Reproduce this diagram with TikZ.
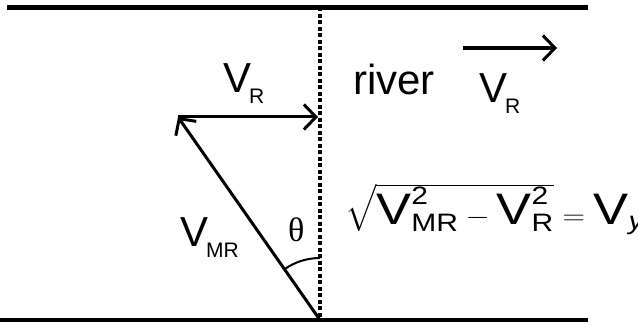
\documentclass[tikz,border=0pt]{standalone}
\usepackage{amsmath}
\usepackage{graphicx}
\usepackage{fontspec}
\setmainfont{Liberation Sans}
\newfontfamily\greekfont{Liberation Serif}
\usetikzlibrary{arrows.meta}
\DeclareMathSizes{42}{42}{24}{18}
\newcommand{\lsub}[1]{\kern-2pt\raisebox{-11pt}{\fontsize{21}{21}\selectfont #1}}
\begin{document}
\begin{tikzpicture}[x=1pt,y=1pt,
  bank/.style={line width=4.5pt},
  vec/.style={line width=3pt,-{Straight Barb[length=12pt,width=25pt,line width=3pt]}},
  lbl/.style={anchor=base west,inner sep=0pt,font=\fontsize{42}{50}\selectfont}]
\useasboundingbox (0,0) rectangle (638,327);
\coordinate (tl) at (7,319.5);
\coordinate (tr) at (588,319.5);
\coordinate (bl) at (0,7);
\coordinate (br) at (588,7);
\coordinate (top) at (320,319.5);
\coordinate (bot) at (320,7);
\coordinate (swim) at (178,210);
\coordinate (dline) at (318,210);
\coordinate (flow0) at (463,279);
\coordinate (flow1) at (557,279);
\draw[bank] (tl) -- (tr);
\draw[bank] (bl) -- (br);
\draw[line width=4pt,dash pattern=on 4pt off 2.5pt] (top) -- (bot);
\draw[vec] (bot) -- (swim);
\draw[vec] (swim) -- (dline);
\draw[vec,line width=3.5pt] (flow0) -- (flow1);
\draw[line width=2pt] (bot) ++(90:62) arc[start angle=90,end angle=124.8,radius=62];
\node[lbl] (vr) at (223,234) {V\lsub{R}};
\node[lbl] (river) at (353,232) {river};
\node[lbl] (vr2) at (479,224) {V\lsub{R}};
\node[lbl] (vmr) at (180,80) {V\lsub{MR}};
\node[lbl,font=\fontsize{34}{40}\greekfont] (theta) at (288,85) {θ};
\node[lbl] (eq) at (345,102) {\scalebox{1.25}[1.05]{$\sqrt{\text{V}^{\text{2}}_{\text{MR}}-\text{V}^{\text{2}}_{\text{R}}}=\text{V}_{\textit{y}}$}};
\end{tikzpicture}
\end{document}
